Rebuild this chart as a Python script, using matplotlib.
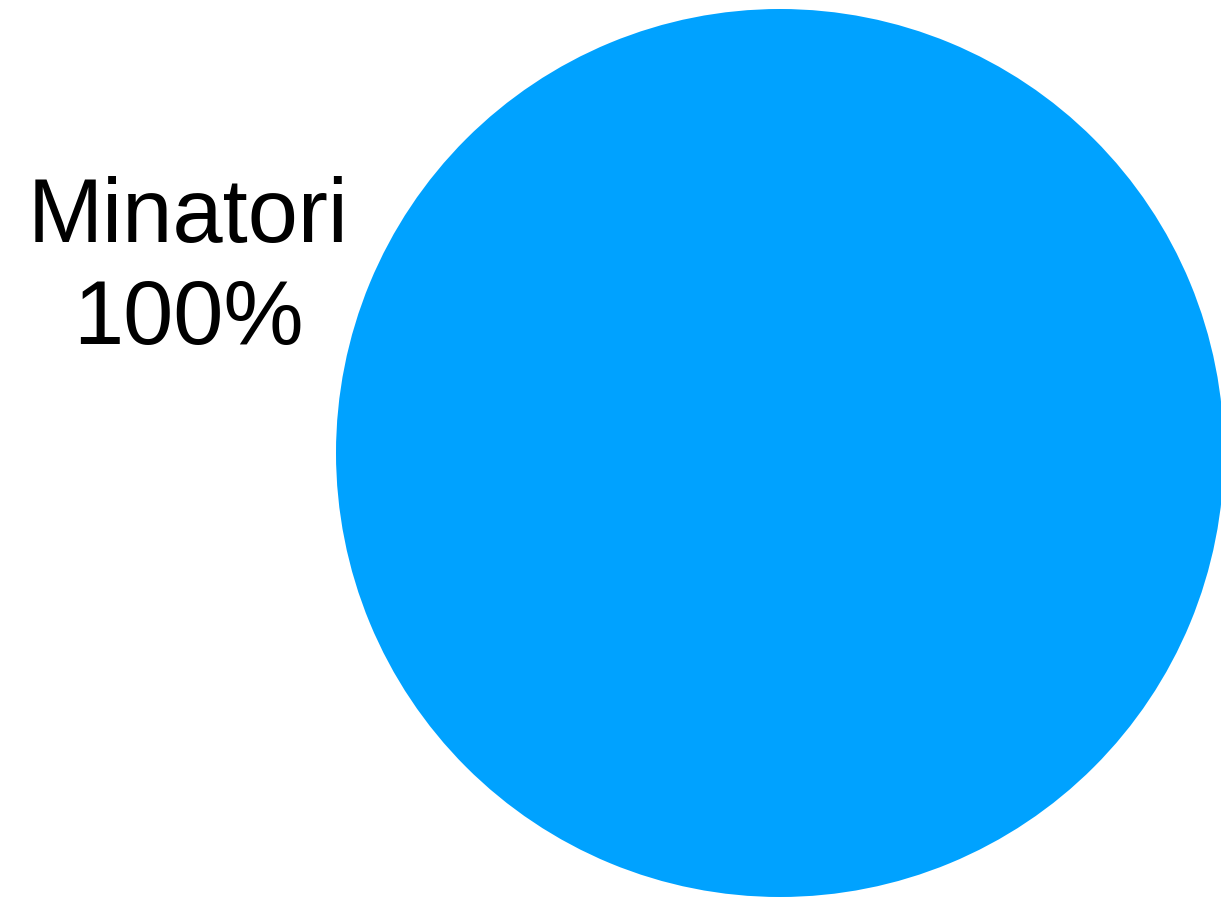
import matplotlib
matplotlib.use("Agg")
import matplotlib.pyplot as plt

categories = ["Minatori"]
values = [100]
colors = ["#00A2FF"]

W, H = 1221, 900
fig = plt.figure(figsize=(W / 100, H / 100), dpi=100)
ax = fig.add_axes([0, 0, 1, 1])

total = sum(values)
labels = [f"{c}\n{v / total * 100:.0f}%" for c, v in zip(categories, values)]
ax.pie(values, labels=labels, colors=colors, center=(780, 447), radius=444,
       startangle=-17.25, labeldistance=1.396, frame=True,
       textprops=dict(fontsize=65, family=["Liberation Sans", "DejaVu Sans"],
                      ha="center", va="center", linespacing=1.26))
ax.set_xlim(0, W)
ax.set_ylim(0, H)
ax.set_aspect("equal")
ax.axis("off")

fig.savefig("out.png", dpi=100)
